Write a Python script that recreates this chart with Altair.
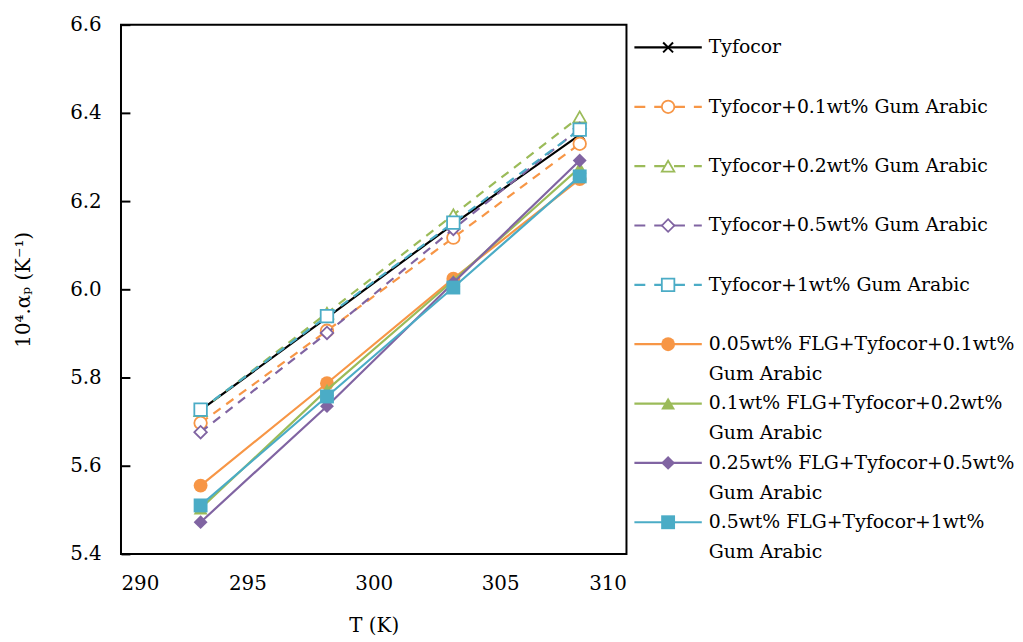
import altair as alt
import pandas as pd

# ---------------- data ----------------
temps = [293.15, 298.15, 303.15, 308.15]

series_names = [
    "Tyfocor",
    "Tyfocor+0.1wt% Gum Arabic",
    "Tyfocor+0.2wt% Gum Arabic",
    "Tyfocor+0.5wt% Gum Arabic",
    "Tyfocor+1wt% Gum Arabic",
    "0.05wt% FLG+Tyfocor+0.1wt% Gum Arabic",
    "0.1wt% FLG+Tyfocor+0.2wt% Gum Arabic",
    "0.25wt% FLG+Tyfocor+0.5wt% Gum Arabic",
    "0.5wt% FLG+Tyfocor+1wt% Gum Arabic",
]
legend_line1 = [
    "Tyfocor",
    "Tyfocor+0.1wt% Gum Arabic",
    "Tyfocor+0.2wt% Gum Arabic",
    "Tyfocor+0.5wt% Gum Arabic",
    "Tyfocor+1wt% Gum Arabic",
    "0.05wt% FLG+Tyfocor+0.1wt%",
    "0.1wt% FLG+Tyfocor+0.2wt%",
    "0.25wt% FLG+Tyfocor+0.5wt%",
    "0.5wt% FLG+Tyfocor+1wt%",
]
legend_line2 = ["", "", "", "", "", "Gum Arabic", "Gum Arabic", "Gum Arabic", "Gum Arabic"]

tyfocor = [5.726, 5.936, 6.148, 6.350]
ga_01 = [5.697, 5.906, 6.117, 6.330]
ga_02 = [5.725, 5.946, 6.169, 6.391]
ga_05 = [5.676, 5.901, 6.137, 6.364]
ga_1 = [5.727, 5.939, 6.151, 6.362]
flg_005 = [5.555, 5.787, 6.024, 6.250]
flg_01 = [5.503, 5.772, 6.020, 6.276]
flg_025 = [5.472, 5.735, 6.015, 6.292]
flg_05 = [5.510, 5.757, 6.004, 6.256]
all_values = [tyfocor, ga_01, ga_02, ga_05, ga_1, flg_005, flg_01, flg_025, flg_05]

colors = ["#000000", "#F79646", "#9BBB59", "#8064A2", "#4BACC6",
          "#F79646", "#9BBB59", "#8064A2", "#4BACC6"]
x_shape = "M-1,-1L1,1M-1,1L1,-1"
shapes = [x_shape, "circle", "triangle-up", "diamond", "square",
          "circle", "triangle-up", "diamond", "square"]
dashed = [False, True, True, True, True, False, False, False, False]
marker_style = ["x", "open", "open", "open", "open", "filled", "filled", "filled", "filled"]

x_ticks = [290, 295, 300, 305, 310]
y_ticks = [5.4, 5.6, 5.8, 6.0, 6.2, 6.4, 6.6]

FONT = "DejaVu Serif"
FS = 20
LFS = 19

# ---------------- main plot ----------------
x_enc = alt.X(
    "T:Q",
    scale=alt.Scale(domain=[290, 310], nice=False, zero=False),
    axis=alt.Axis(values=x_ticks, title="T (K)", grid=False, domain=False,
                  ticks=False, labelPadding=20, titlePadding=22,
                  labelFont=FONT, titleFont=FONT,
                  labelFontSize=FS, titleFontSize=FS, titleFontWeight="normal",
                  labelColor="black", titleColor="black"),
)
y_enc = alt.Y(
    "v:Q",
    scale=alt.Scale(domain=[5.4, 6.6], nice=False, zero=False),
    axis=alt.Axis(values=y_ticks, format=".1f", title="10⁴.αₚ (K⁻¹)", grid=False,
                  domain=False, ticks=True, tickSize=9, tickWidth=2, tickColor="black",
                  offset=-9, labelPadding=20, titlePadding=36,
                  labelFont=FONT, titleFont=FONT,
                  labelFontSize=FS, titleFontSize=FS, titleFontWeight="normal",
                  labelColor="black", titleColor="black"),
)

layers = []
for i, name in enumerate(series_names):
    df = pd.DataFrame({"T": temps, "v": all_values[i], "series": name})
    line_kw = dict(color=colors[i], strokeWidth=2.2)
    if dashed[i]:
        line_kw["strokeDash"] = [9, 7]
    base = alt.Chart(df).encode(x=x_enc, y=y_enc)
    layers.append(base.mark_line(**line_kw))
    if marker_style[i] == "x":
        pt = base.mark_point(shape=shapes[i], filled=False, stroke=colors[i],
                             strokeWidth=2, size=100, opacity=1)
    elif marker_style[i] == "open":
        pt = base.mark_point(shape=shapes[i], filled=False, fill="white", fillOpacity=1,
                             stroke=colors[i], strokeWidth=1.8, size=160, opacity=1)
    else:
        pt = base.mark_point(shape=shapes[i], filled=True, fill=colors[i],
                             size=196, opacity=1)
    layers.append(pt)

main = alt.layer(*layers).properties(
    width=510, height=534,
    view=alt.ViewBackground(stroke="black", strokeWidth=2),
)

# ---------------- custom legend panel ----------------
leg_y = alt.Y("idx:Q", scale=alt.Scale(domain=[-0.384, 8.534], reverse=True, nice=False, zero=False),
              axis=None)
leg_layers = []
for i, name in enumerate(series_names):
    ldf = pd.DataFrame({"idx": [i], "l1": [legend_line1[i]], "l2": [legend_line2[i]]})
    b = alt.Chart(ldf).encode(y=leg_y)
    rule_kw = dict(color=colors[i], strokeWidth=2.2)
    if dashed[i]:
        rule_kw["strokeDash"] = [11, 9]
    leg_layers.append(b.mark_rule(**rule_kw).encode(x=alt.value(7), x2=alt.value(75)))
    if marker_style[i] == "x":
        p = b.mark_point(shape=shapes[i], filled=False, stroke=colors[i], strokeWidth=2,
                         size=100, opacity=1)
    elif marker_style[i] == "open":
        p = b.mark_point(shape=shapes[i], filled=False, fill="white", fillOpacity=1,
                         stroke=colors[i], strokeWidth=1.8, size=160, opacity=1)
    else:
        p = b.mark_point(shape=shapes[i], filled=True, fill=colors[i], size=196, opacity=1)
    leg_layers.append(p.encode(x=alt.value(41)))
    leg_layers.append(b.mark_text(align="left", baseline="middle", font=FONT, fontSize=LFS,
                                  color="black").encode(x=alt.value(82), text="l1:N"))
    if legend_line2[i]:
        leg_layers.append(b.mark_text(align="left", baseline="middle", font=FONT, fontSize=LFS,
                                      color="black", dy=30).encode(x=alt.value(82), text="l2:N"))

legend_panel = alt.layer(*leg_layers).properties(
    width=360, height=534,
    view=alt.ViewBackground(stroke=None),
)

chart = alt.hconcat(main, legend_panel, spacing=0).properties(
    padding={"left": 5, "top": 3, "right": 0, "bottom": 0}
).configure(font=FONT).configure_view(stroke=None)

chart.save("out.html", embed_options={"renderer": "svg", "actions": False})
